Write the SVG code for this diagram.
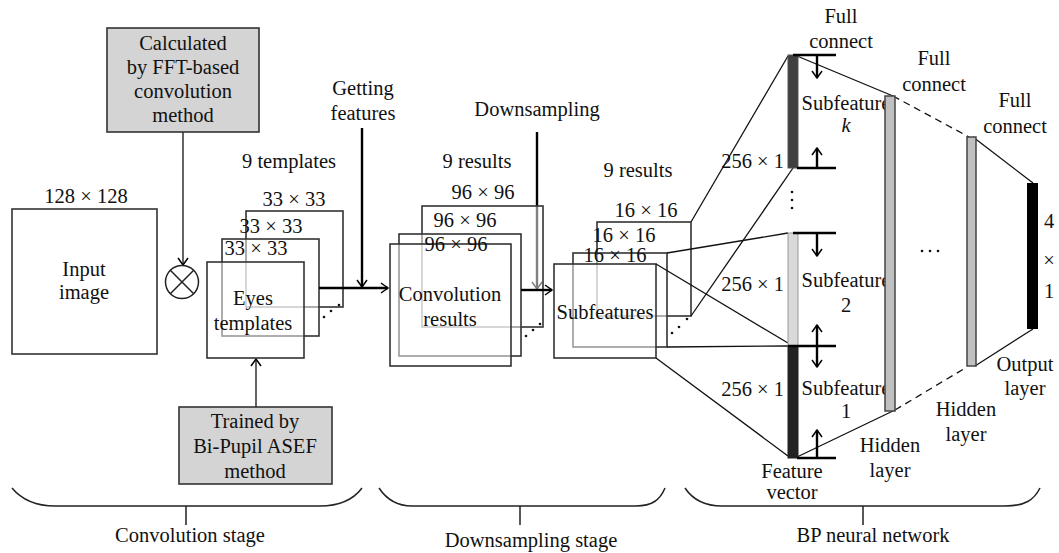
<svg xmlns="http://www.w3.org/2000/svg" width="1059" height="553" viewBox="0 0 1059 553">
<defs>
<marker id="ahb" markerUnits="userSpaceOnUse" markerWidth="20" markerHeight="20" refX="0" refY="0" orient="auto" overflow="visible">
<path d="M-7,-5 L0,0 L-7,5" fill="none" stroke="#000" stroke-width="1.5"/>
</marker>
</defs>
<style>
text{font-family:"Liberation Serif","Times New Roman",serif;font-size:20.5px;fill:#111;text-anchor:middle}
.box{fill:#fff;stroke:#333;stroke-width:1.6}
.st{fill:#fff;fill-opacity:0.5;stroke:#333;stroke-width:1.6}
.gray{fill:#d4d4d4;stroke:#333;stroke-width:1.6}
.ln{fill:none;stroke:#111;stroke-width:1.3}
.thk{fill:none;stroke:#000;stroke-width:2.4}
.brace{fill:none;stroke:#222;stroke-width:1.5}
.dot{fill:#111}
</style>
<rect width="1059" height="553" fill="#fff"/>

<g id="connectors">
<line class="ln" x1="183" y1="132" x2="183" y2="265" marker-end="url(#ahb)"/>
<line class="ln" x1="256" y1="407" x2="256" y2="359" marker-end="url(#ahb)"/>
<line class="thk" x1="537" y1="132" x2="537" y2="289" marker-end="url(#ahb)"/>
</g>

<g id="calc-box">
<rect class="gray" x="107" y="28" width="152" height="104"/>
<text x="183" y="50">Calculated</text>
<text x="183" y="74">by FFT-based</text>
<text x="183" y="98">convolution</text>
<text x="183" y="122">method</text>
</g>

<g id="input-image">
<text x="86" y="203">128 × 128</text>
<rect class="box" x="12" y="209" width="145" height="145"/>
<text x="84" y="276">Input</text>
<text x="84" y="299">image</text>
</g>

<g id="multiply">
<circle cx="182" cy="282" r="16.5" fill="#fff" stroke="#222" stroke-width="1.5"/>
<path d="M170.3,270.3 L193.7,293.7 M193.7,270.3 L170.3,293.7" stroke="#222" stroke-width="1.5"/>
</g>

<g id="templates">
<text x="289" y="168">9 templates</text>
<text x="294" y="206">33 × 33</text>
<rect class="st" x="246" y="211" width="97" height="96"/>
<text x="271" y="233">33 × 33</text>
<rect class="st" x="222" y="239" width="97" height="97"/>
<text x="256" y="255">33 × 33</text>
<rect class="st" x="207" y="262" width="97" height="96"/>
<text x="253" y="305">Eyes</text>
<text x="253" y="330">templates</text>
<circle class="dot" cx="339" cy="305" r="1.3"/>
<circle class="dot" cx="331" cy="311" r="1.3"/>
<circle class="dot" cx="324" cy="317" r="1.3"/>
</g>

<g id="trained-box">
<rect class="gray" x="179" y="407" width="153" height="77"/>
<text x="255" y="428">Trained by</text>
<text x="255" y="453">Bi-Pupil ASEF</text>
<text x="255" y="478">method</text>
</g>

<g id="getting-features">
<text x="363" y="95">Getting</text>
<text x="363" y="120">features</text>
</g>

<g id="conv-results">
<text x="477" y="168">9 results</text>
<text x="483" y="199">96 × 96</text>
<rect class="st" x="422" y="206" width="121" height="121"/>
<text x="465" y="227">96 × 96</text>
<rect class="st" x="399" y="234" width="122" height="122"/>
<rect class="st" x="390" y="244" width="121" height="122"/>
<text x="456" y="251">96 × 96</text>
<text x="450" y="301">Convolution</text>
<text x="450" y="326">results</text>
<circle class="dot" cx="540" cy="324" r="1.3"/>
<circle class="dot" cx="533" cy="330" r="1.3"/>
<circle class="dot" cx="526" cy="336" r="1.3"/>
</g>

<g id="downsampling-label">
<text x="537" y="116">Downsampling</text>
</g>

<g id="subfeatures">
<text x="638" y="177">9 results</text>
<text x="646" y="217">16 × 16</text>
<rect class="st" x="597" y="222" width="94" height="94"/>
<text x="624" y="242">16 × 16</text>
<rect class="st" x="573" y="253" width="94" height="94"/>
<rect class="st" x="554" y="264" width="102" height="94"/>
<text x="615" y="262">16 × 16</text>
<text x="605" y="319">Subfeatures</text>
<circle class="dot" cx="687" cy="319" r="1.3"/>
<circle class="dot" cx="679" cy="327" r="1.3"/>
<circle class="dot" cx="672" cy="333" r="1.3"/>
</g>

<g id="connectors-main">
<line class="thk" x1="319" y1="288" x2="388" y2="288" marker-end="url(#ahb)"/>
<line class="thk" x1="362" y1="128" x2="362" y2="287" marker-end="url(#ahb)"/>
<line class="thk" x1="521" y1="290" x2="552" y2="290" marker-end="url(#ahb)"/>
<line class="ln" x1="691" y1="222" x2="788" y2="56"/>
<line class="ln" x1="691" y1="316" x2="793" y2="168"/>
<line class="ln" x1="667" y1="253" x2="788" y2="233"/>
<line class="ln" x1="667" y1="347" x2="788" y2="346"/>
<line class="ln" x1="656" y1="264" x2="788" y2="343"/>
<line class="ln" x1="656" y1="358" x2="788" y2="456"/>
<line class="ln" x1="797" y1="56" x2="893" y2="96"/>
<line class="ln" x1="893" y1="96" x2="969" y2="137" stroke-dasharray="7,5"/>
<line class="ln" x1="973" y1="137" x2="1033" y2="183"/>
<line class="ln" x1="797" y1="457" x2="895" y2="410"/>
<line class="ln" x1="895" y1="410" x2="967" y2="367" stroke-dasharray="7,5"/>
<line class="ln" x1="975" y1="366" x2="1033" y2="329"/>
</g>

<g id="feature-vector">
<rect x="788" y="55" width="10" height="113" fill="#3f3f3f" stroke="#555" stroke-width="1"/>
<rect x="788" y="233" width="10" height="113" fill="#d9d9d9" stroke="#999" stroke-width="1"/>
<rect x="788" y="346" width="10" height="112" fill="#232323" stroke="#232323" stroke-width="1"/>
<path class="thk" d="M793,55 H836 M797,168 H836 M793,233 H836 M788,346 H836 M797,458 H836" stroke-width="2"/>
<line class="thk" stroke-width="2" x1="817" y1="55" x2="817" y2="78" marker-end="url(#ahb)"/>
<line class="thk" stroke-width="2" x1="817" y1="168" x2="817" y2="148" marker-end="url(#ahb)"/>
<line class="thk" stroke-width="2" x1="817" y1="233" x2="817" y2="256" marker-end="url(#ahb)"/>
<line class="thk" stroke-width="2" x1="817" y1="346" x2="817" y2="325" marker-end="url(#ahb)"/>
<line class="thk" stroke-width="2" x1="817" y1="346" x2="817" y2="367" marker-end="url(#ahb)"/>
<line class="thk" stroke-width="2" x1="817" y1="458" x2="817" y2="430" marker-end="url(#ahb)"/>
<circle class="dot" cx="792" cy="192" r="1.3"/>
<circle class="dot" cx="792" cy="200" r="1.3"/>
<circle class="dot" cx="792" cy="208" r="1.3"/>
<text x="784" y="168" style="text-anchor:end">256 × 1</text>
<text x="784" y="291" style="text-anchor:end">256 × 1</text>
<text x="784" y="396" style="text-anchor:end">256 × 1</text>
<text x="846" y="110">Subfeature</text>
<text x="846" y="132" font-style="italic">k</text>
<text x="846" y="287">Subfeature</text>
<text x="846" y="312">2</text>
<text x="846" y="395">Subfeature</text>
<text x="846" y="418">1</text>
<text x="792" y="478">Feature</text>
<text x="792" y="499">vector</text>
</g>

<g id="hidden-layer-1">
<rect x="885" y="96" width="10" height="315" fill="#c0c0c0" stroke="#444" stroke-width="1.5"/>
<text x="890" y="452">Hidden</text>
<text x="890" y="477">layer</text>
</g>

<g id="ellipsis">
<circle class="dot" cx="922" cy="251" r="1.3"/>
<circle class="dot" cx="930" cy="251" r="1.3"/>
<circle class="dot" cx="938" cy="251" r="1.3"/>
</g>

<g id="hidden-layer-2">
<rect x="967" y="137" width="9" height="229" fill="#c0c0c0" stroke="#444" stroke-width="1.5"/>
<text x="966" y="416">Hidden</text>
<text x="966" y="441">layer</text>
</g>

<g id="output-layer">
<rect x="1027" y="183" width="11" height="146" fill="#000"/>
<text x="1049" y="228">4</text>
<text x="1049" y="267">×</text>
<text x="1049" y="298">1</text>
<text x="1025" y="371">Output</text>
<text x="1025" y="395">layer</text>
</g>

<g id="full-connect-labels">
<text x="841" y="23">Full</text>
<text x="841" y="48">connect</text>
<text x="934" y="65">Full</text>
<text x="934" y="91">connect</text>
<text x="1015" y="107">Full</text>
<text x="1015" y="133">connect</text>
</g>

<g id="stage-braces">
<path class="brace" d="M12,488 C22,500 35,506 55,506 L320,506 C340,506 353,500 362,488 M186,506 V525"/>
<text x="190" y="542">Convolution stage</text>
<path class="brace" d="M379,488 C387,500 397,506 412,506 L636,506 C652,506 660,500 665,488 M520,506 V525"/>
<text x="531" y="547">Downsampling stage</text>
<path class="brace" d="M685,488 C693,500 705,506 722,506 L1005,506 C1025,506 1034,500 1040,488 M863,506 V525"/>
<text x="873" y="542">BP neural network</text>
</g>
</svg>
